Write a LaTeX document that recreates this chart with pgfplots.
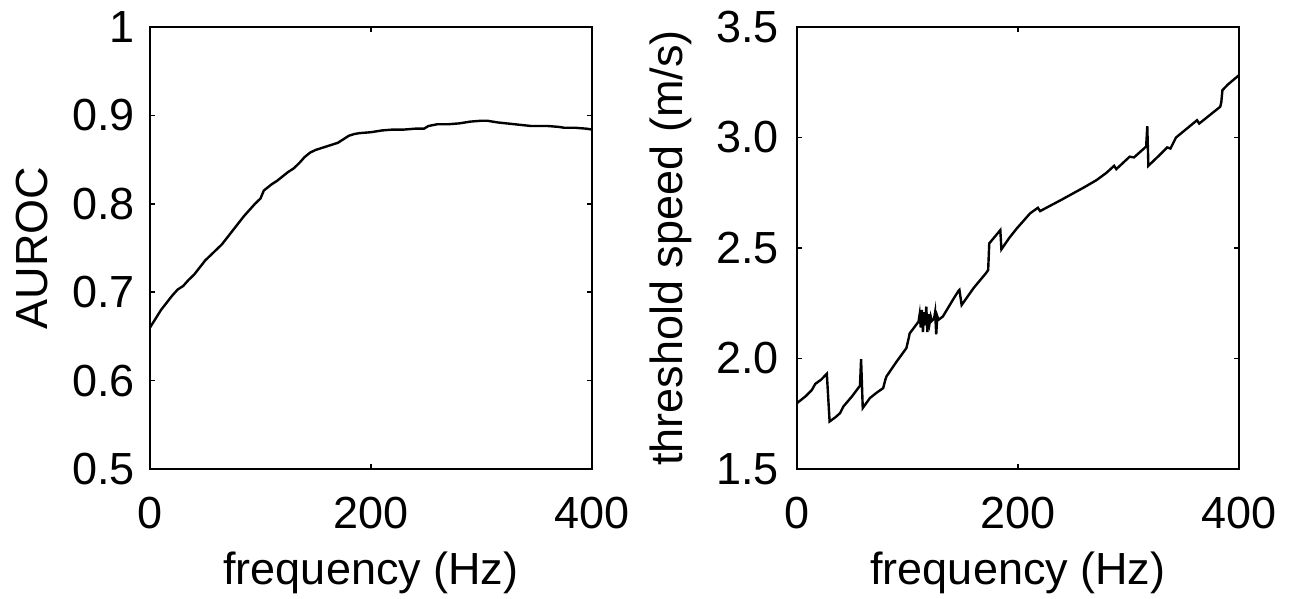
\documentclass[border=0pt]{standalone}
\usepackage{fontspec}
\setmainfont{Liberation Sans}
\usepackage{pgfplots}
\pgfplotsset{compat=1.18}
\begin{document}
\fontsize{22.5}{27}\selectfont
\begin{tikzpicture}
\path[use as bounding box] (0pt,0pt) rectangle (649pt,-299.5pt);
\pgfplotsset{
  every axis/.append style={
    scale only axis, width=221pt, height=221pt,
    anchor=south west,
    xmin=0, xmax=400,
    xtick={0,200,400}, xticklabels={0,200,400},
    tick align=inside, xtick pos=both, ytick pos=both,
    major tick length=2.5pt,
    axis line style={line width=1pt},
    every tick/.style={black, line width=0.8pt},
    xticklabel style={anchor=base, inner sep=0pt, yshift=-29.5pt},
    yticklabel style={anchor=east, inner sep=0pt},
    xlabel style={at={(axis description cs:0.5,-0.2624)}, anchor=base},
    font=\fontsize{22.5}{27}\selectfont,
    tick label style={font=\fontsize{22.5}{27}\selectfont},
    label style={font=\fontsize{22.5}{27}\selectfont},
  }
}
\begin{axis}[at={(75pt,-234.5pt)},
  ymin=0.5, ymax=1,
  ytick={0.5,0.6,0.7,0.8,0.9,1}, yticklabels={0.5,0.6,0.7,0.8,0.9,1},
  yticklabel style={xshift=-7.5pt},
  xlabel={frequency (Hz)}, ylabel={AUROC},
  ylabel style={at={(axis description cs:-0.233,0.5)}, anchor=base},
]
\addplot[black, line width=1.2pt] coordinates {
(0,0.660) (5,0.670) (10,0.680) (15,0.688) (20,0.696) (25,0.703) (30,0.707) (35,0.714)
(40,0.720) (45,0.728) (50,0.736) (55,0.742) (60,0.748) (65,0.754) (70,0.762) (75,0.770)
(80,0.778) (85,0.786) (90,0.793) (95,0.800) (100,0.806) (103,0.815) (110,0.822) (115,0.826)
(120,0.831) (125,0.836) (130,0.840) (135,0.846) (140,0.853) (145,0.858) (150,0.861) (155,0.863)
(160,0.865) (165,0.867) (170,0.869) (175,0.873) (180,0.877) (185,0.879) (190,0.880) (200,0.881)
(210,0.883) (220,0.884) (230,0.884) (240,0.885) (248,0.885) (252,0.888) (260,0.890) (270,0.890)
(280,0.891) (290,0.893) (300,0.894) (305,0.894) (315,0.892) (330,0.890) (345,0.888) (360,0.888)
(370,0.887) (375,0.886) (385,0.886) (395,0.885) (400,0.884)
};
\end{axis}
\begin{axis}[at={(398.5pt,-234.5pt)},
  ymin=1.5, ymax=3.5,
  ytick={1.5,2,2.5,3,3.5}, yticklabels={1.5,2.0,2.5,3.0,3.5},
  yticklabel style={xshift=-9pt},
  xlabel={frequency (Hz)}, ylabel={threshold speed (m/s)},
  ylabel style={at={(axis description cs:-0.258,0.5)}, anchor=base},
]
\addplot[black, line width=1.2pt] coordinates {
(0,1.798) (8,1.83) (13.5,1.858) (16.5,1.885) (22,1.905) (27,1.931) (29.5,1.715) (35,1.735)
(39,1.753) (42,1.783) (50,1.83) (57,1.877) (58,1.997) (59.5,1.776) (66,1.821) (72,1.845)
(78,1.866) (80,1.905) (81,1.919) (90,1.985) (99,2.047) (101,2.09) (102,2.114) (106,2.14)
(110,2.167) (111,2.20) (112,2.14) (113,2.22) (114,2.12) (115,2.21) (116,2.15) (117,2.235)
(118,2.12) (119,2.20) (120,2.16) (121,2.19) (122,2.17) (124,2.18) (125,2.21) (126,2.11)
(127,2.19) (128,2.175) (132,2.19) (141,2.265) (146,2.305) (147,2.31) (149,2.242) (160,2.32)
(171,2.386) (173,2.40) (174,2.521) (178,2.545) (184,2.581) (185,2.494) (192,2.545) (199,2.589)
(211,2.657) (218,2.682) (220,2.667) (240,2.72) (260,2.775) (271,2.807) (280,2.84) (287,2.872)
(289,2.857) (301,2.913) (305,2.91) (314,2.95) (316,2.96) (317,3.051) (318,2.872) (328,2.92)
(335,2.955) (338,2.95) (343,3.0) (362,3.078) (364,3.063) (383,3.139) (384,3.16) (385,3.214)
(390,3.24) (400,3.282)
};
\end{axis}
\end{tikzpicture}
\end{document}
